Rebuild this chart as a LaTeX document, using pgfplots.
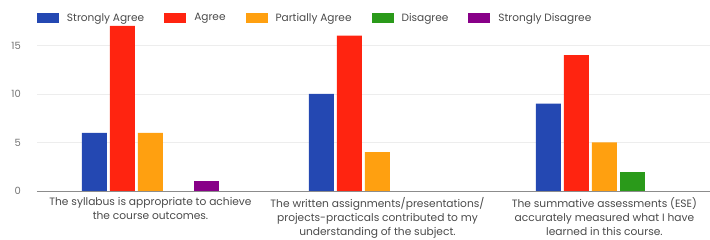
\documentclass[border=0pt]{standalone}
\usepackage{fontspec}
\setmainfont{Poppins}
\usepackage{pgfplots}
\pgfplotsset{compat=1.18}
\definecolor{sa}{HTML}{2448B2}
\definecolor{ag}{HTML}{FF2410}
\definecolor{pa}{HTML}{FFA010}
\definecolor{di}{HTML}{2A9A1A}
\definecolor{sd}{HTML}{880088}
\definecolor{txt}{HTML}{4A4A4A}
\begin{document}
\begin{tikzpicture}
\useasboundingbox (-37bp,-49bp) rectangle (673bp,191bp);
\begin{axis}[
  at={(0,0)}, anchor=south west,
  scale only axis, width=673bp, height=165bp,
  xmin=-0.5, xmax=2.465, ymin=0, ymax=17,
  ybar=3bp, bar width=25bp,
  xtick={0,1,2},
  xticklabels={{The syllabus is appropriate to achieve\\the course outcomes.},
    {The written assignments/presentations/\\projects-practicals contributed to my\\understanding of the subject.},
    {The summative assessments (ESE)\\accurately measured what I have\\learned in this course.}},
  ytick={0,5,10,15},
  ymajorgrids, grid style={black!7},
  axis x line*=bottom, axis y line*=left,
  x axis line style={draw=black!45, -},
  y axis line style={draw=none},
  major tick length=0pt,
  xticklabel style={align=center, inner sep=0pt, yshift=-6bp, text=txt,
    font=\fontsize{10.7}{14}\selectfont},
  yticklabel style={inner sep=0pt, xshift=-16bp, text=black!55,
    font=\fontsize{10}{12}\selectfont},
  /pgf/number format/assume math mode=true,
  legend style={at={(0,1)}, anchor=west, yshift=8bp, inner sep=0pt, outer sep=0pt,
    draw=none, fill=none, legend columns=-1, text=txt,
    font=\fontsize{10.6}{12}\selectfont,
    /tikz/every odd column/.append style={column sep=6bp},
    /tikz/every even column/.append style={column sep=18bp}},
  legend image code/.code={\fill (0bp,-5bp) rectangle (22bp,5bp);},
]
\addplot[fill=sa, draw=none] coordinates {(0,6) (1,10) (2,9)};
\addplot[fill=ag, draw=none] coordinates {(0,17) (1,16) (2,14)};
\addplot[fill=pa, draw=none] coordinates {(0,6) (1,4) (2,5)};
\addplot[fill=di, draw=none] coordinates {(2,2)};
\addplot[fill=sd, draw=none] coordinates {(0,1)};
\legend{Strongly Agree, Agree, Partially Agree, Disagree, Strongly Disagree}
\end{axis}
\end{tikzpicture}
\end{document}
